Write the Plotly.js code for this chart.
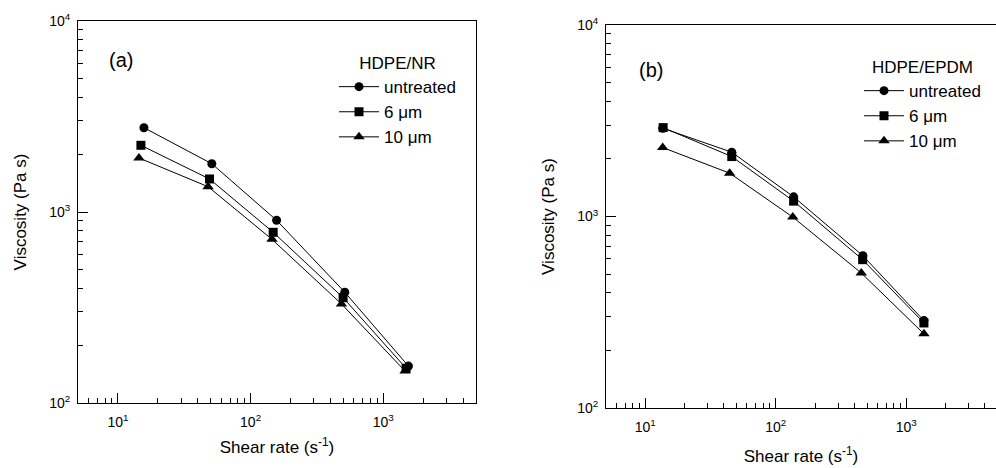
<!DOCTYPE html>
<html>
<head>
<meta charset="utf-8">
<script src="https://cdn.plot.ly/plotly-3.0.1.min.js"></script>
<style>html,body{margin:0;padding:0;background:#fff;}#chart{width:996px;height:468px;}</style>
</head>
<body>
<div id="chart"></div>
<script>
// Panel (a): HDPE/NR
const seriesNames = ['untreated', '6 \u03bcm', '10 \u03bcm'];
const shearA_untreated = [15.7, 51, 157, 513, 1548];
const shearA_6um = [14.9, 49, 148, 498, 1486];
const shearA_10um = [14.4, 47.8, 145, 484, 1460];
const viscA_untreated = [2763, 1790, 905, 380, 156];
const viscA_6um = [2235, 1489, 783, 356, 152];
const viscA_10um = [1918, 1357, 719, 330, 147];

// Panel (b): HDPE/EPDM
const shearB_untreated = [13.6, 46, 137, 465, 1365];
const shearB_6um = [13.7, 46, 137, 463, 1365];
const shearB_10um = [13.6, 44.3, 135, 452, 1365];
const viscB_untreated = [2891, 2167, 1267, 624, 286];
const viscB_6um = [2911, 2056, 1203, 595, 278];
const viscB_10um = [2291, 1684, 993, 507, 244];

// Tick labels
const xMajorVals = [10, 100, 1000];
const xMajorText = ['10<sup>1</sup>', '10<sup>2</sup>', '10<sup>3</sup>'];
const xMinorVals = [6, 7, 8, 9, 20, 30, 40, 50, 60, 70, 80, 90, 200, 300, 400, 500, 600, 700, 800, 900, 2000, 3000, 4000];
const yMajorVals = [100, 1000, 10000];
const yMajorText = ['10<sup>2</sup>', '10<sup>3</sup>', '10<sup>4</sup>'];
const yMinorVals = [200, 300, 400, 500, 600, 700, 800, 900, 2000, 3000, 4000, 5000, 6000, 7000, 8000, 9000];

const FONT = 'Liberation Sans, Arial, Helvetica, sans-serif';
const symbols = ['circle', 'square', 'triangle-up'];

function mk(x, y, i, xa, ya, leg) {
  return {
    x: x, y: y, type: 'scatter', mode: 'lines+markers',
    name: seriesNames[i], xaxis: xa, yaxis: ya, legend: leg,
    legendgroup: leg + i,
    line: {color: '#000', width: 1},
    marker: {symbol: symbols[i], size: symbols[i] === 'triangle-up' ? 10 : 9, color: '#000'}
  };
}

const data = [
  mk(shearA_untreated, viscA_untreated, 0, 'x', 'y', 'legend'),
  mk(shearA_6um, viscA_6um, 1, 'x', 'y', 'legend'),
  mk(shearA_10um, viscA_10um, 2, 'x', 'y', 'legend'),
  mk(shearB_untreated, viscB_untreated, 0, 'x2', 'y2', 'legend2'),
  mk(shearB_6um, viscB_6um, 1, 'x2', 'y2', 'legend2'),
  mk(shearB_10um, viscB_10um, 2, 'x2', 'y2', 'legend2')
];

function xax(domain, range, mirror, standoff) {
  return {
    type: 'log', domain: domain, range: range,
    showline: true, linecolor: '#000', linewidth: 1, mirror: mirror,
    showgrid: false, zeroline: false,
    tickmode: 'array', tickvals: xMajorVals, ticktext: xMajorText,
    ticks: 'inside', ticklen: 10, tickcolor: '#000', tickwidth: 1,
    ticklabelstandoff: 6,
    tickfont: {family: FONT, size: 14, color: '#000'},
    minor: {tickmode: 'array', tickvals: xMinorVals, ticks: 'inside', ticklen: 5, tickcolor: '#000', tickwidth: 1, showgrid: false},
    title: {text: 'Shear rate (s<sup>-1</sup>)', font: {family: FONT, size: 17, color: '#000'}, standoff: standoff}
  };
}
function yax(domain, anchor, mirror) {
  return {
    type: 'log', domain: domain, range: [2, 4], anchor: anchor,
    showline: true, linecolor: '#000', linewidth: 1, mirror: mirror,
    showgrid: false, zeroline: false,
    tickmode: 'array', tickvals: yMajorVals, ticktext: yMajorText,
    ticks: 'inside', ticklen: 10, tickcolor: '#000', tickwidth: 1,
    ticklabelstandoff: 4,
    tickfont: {family: FONT, size: 14, color: '#000'},
    minor: {tickmode: 'array', tickvals: yMinorVals, ticks: 'inside', ticklen: 5, tickcolor: '#000', tickwidth: 1, showgrid: false},
    title: {text: 'Viscosity (Pa s)', font: {family: FONT, size: 17, color: '#000'}, standoff: 18}
  };
}

const W = 996, H = 468;
const lx = Math.log10(5), rx = Math.log10(5000);
const layout = {
  width: W, height: H,
  margin: {l: 0, r: 0, t: 0, b: 0},
  paper_bgcolor: '#fff', plot_bgcolor: '#fff',
  font: {family: FONT, color: '#000'},
  xaxis: Object.assign(xax([78 / W, 476 / W], [lx, rx], true, 12), {anchor: 'y'}),
  yaxis: yax([1 - 403 / H, 1 - 21 / H], 'x', true),
  xaxis2: Object.assign(xax([606 / W, 1], [lx, lx + 390 / 130.5], true, 16), {anchor: 'y2'}),
  yaxis2: yax([1 - 408 / H, 1 - 25 / H], 'x2', false),
  legend: {
    x: 334 / W, y: 1 - 47 / H, xanchor: 'left', yanchor: 'top',
    bgcolor: 'rgba(0,0,0,0)', borderwidth: 0,
    itemwidth: 40, tracegroupgap: 0,
    font: {family: FONT, size: 17, color: '#000'},
    title: {text: 'HDPE/NR', side: 'top center', font: {family: FONT, size: 17, color: '#000'}}
  },
  legend2: {
    x: 859 / W, y: 1 - 51 / H, xanchor: 'left', yanchor: 'top',
    bgcolor: 'rgba(0,0,0,0)', borderwidth: 0,
    itemwidth: 40, tracegroupgap: 0,
    font: {family: FONT, size: 17, color: '#000'},
    title: {text: 'HDPE/EPDM', side: 'top center', font: {family: FONT, size: 17, color: '#000'}}
  },
  annotations: [
    {text: '(a)', xref: 'paper', yref: 'paper', x: 121 / W, y: 1 - 60 / H, xanchor: 'center', yanchor: 'middle', showarrow: false, font: {family: FONT, size: 20, color: '#000'}},
    {text: '(b)', xref: 'paper', yref: 'paper', x: 651 / W, y: 1 - 70 / H, xanchor: 'center', yanchor: 'middle', showarrow: false, font: {family: FONT, size: 20, color: '#000'}}
  ],
  showlegend: true
};

Plotly.newPlot('chart', data, layout, {displayModeBar: false, staticPlot: true});
</script>
</body>
</html>
